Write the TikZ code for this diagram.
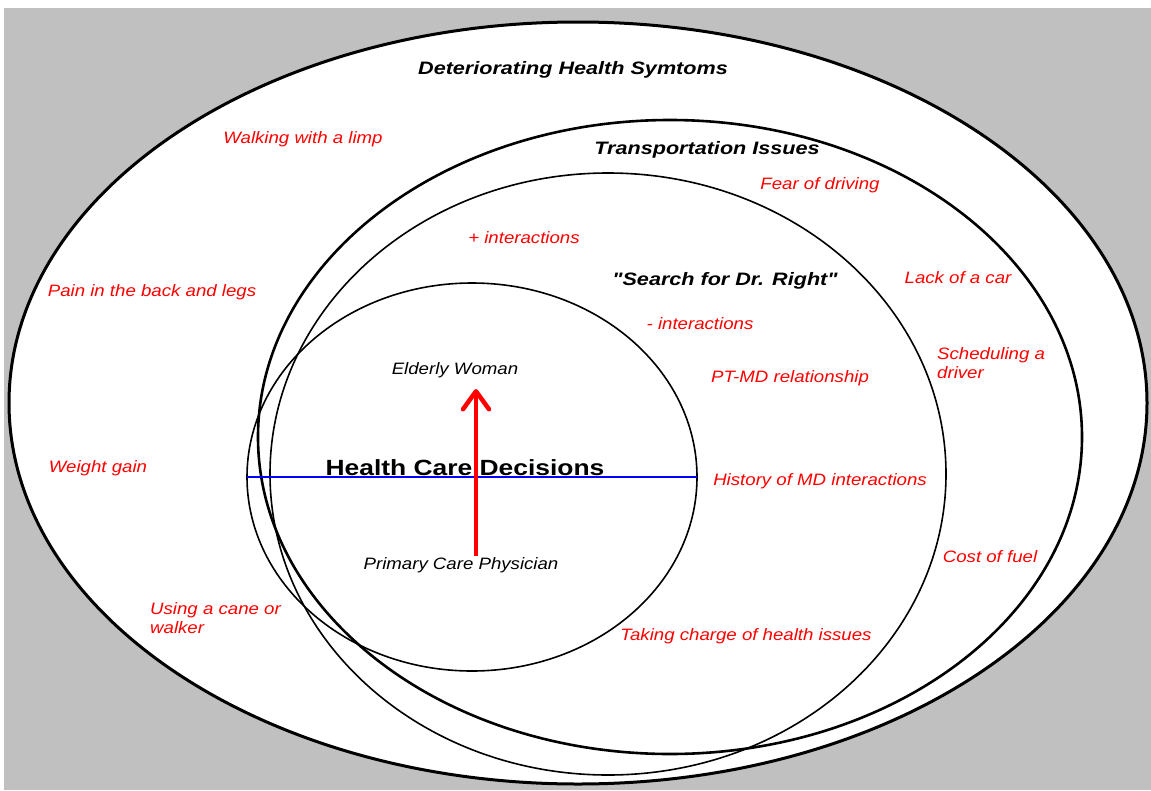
\documentclass[tikz,border=0pt]{standalone}
\usepackage{fontspec}
\setmainfont{Liberation Sans}
\newfontfamily\labfont[FakeStretch=1.13]{Liberation Sans}
\newfontfamily\ttlfont[FakeStretch=1.2]{Liberation Sans}
\usetikzlibrary{shapes.geometric,arrows.meta}
\definecolor{bggray}{RGB}{192,192,192}
\tikzset{
  ring/.style={ellipse, draw=black, fill=white, inner sep=0pt, outer sep=0pt},
  lab/.style={text=red, inner sep=0pt, font=\labfont\fontsize{16.5}{19}\selectfont\itshape, align=left},
  blk/.style={text=black, inner sep=0pt, font=\labfont\fontsize{16.5}{19}\selectfont\itshape},
  ttl/.style={text=black, inner sep=0pt, font=\ttlfont\fontsize{18}{21}\selectfont\bfseries\itshape},
  big/.style={text=black, inner sep=0pt, font=\ttlfont\fontsize{22}{26}\selectfont\bfseries},
  relarrow/.style={draw=red, line width=4.5pt, -{Straight Barb[length=18pt,width=26pt,line cap=round,line join=round]}},
}
\begin{document}
\begin{tikzpicture}[x=1pt,y=-1pt]
\useasboundingbox (0,0) rectangle (1151,790);
\fill[white] (0,0) rectangle (1151,790);
\fill[bggray] (4,8) rectangle (1151,790);
% rings
\node[ring, line width=3pt, minimum width=1138pt, minimum height=762pt] (dhs) at (578,403) {};
\node[ring, line width=2.6pt, minimum width=824pt, minimum height=634pt] (trans) at (670,437) {};
\node[ring, fill=none, line width=1.6pt, minimum width=676pt, minimum height=602pt] (search) at (608,474) {};
\node[ring, fill=none, line width=1.6pt, minimum width=450pt, minimum height=388pt] (hcd) at (472,477) {};
% titles
\node[ttl] (tdhs) at (573,70) {Deteriorating Health Symtoms};
\node[ttl] (ttrans) at (707,150) {Transportation Issues};
\node[ttl] (tsearch) at (725,281) {"Search for Dr. Right"};
% central
\draw[blue, line width=2pt] (hcd.west) -- (hcd.east);
\node[big, anchor=base] (thcd) at (465,475) {Health Care Decisions};
\node[blk] (ew) at (455,370) {Elderly Woman};
\node[blk] (pcp) at (461,565) {Primary Care Physician};
\coordinate (abot) at (476,556);
\coordinate (atop) at (476,389);
\draw[relarrow] (abot) -- (atop);
% outer ring labels
\node[lab] (l1) at (303,139) {Walking with a limp};
\node[lab] (l2) at (152,292) {Pain in the back and legs};
\node[lab] (l3) at (98,468) {Weight gain};
\node[lab, anchor=west] (l4) at (150,618) {Using a cane or\\walker};
% transportation labels
\node[lab] (t1) at (820,185) {Fear of driving};
\node[lab] (t2) at (958,278) {Lack of a car};
\node[lab, anchor=west] (t3) at (937,363) {Scheduling a\\driver};
\node[lab] (t4) at (990,557) {Cost of fuel};
% search labels
\node[lab] (s1) at (524,238) {+ interactions};
\node[lab] (s2) at (700,324) {- interactions};
\node[lab] (s3) at (790,378) {PT-MD relationship};
\node[lab] (s4) at (820,481) {History of MD interactions};
\node[lab] (s5) at (746,636) {Taking charge of health issues};
\end{tikzpicture}
\end{document}
